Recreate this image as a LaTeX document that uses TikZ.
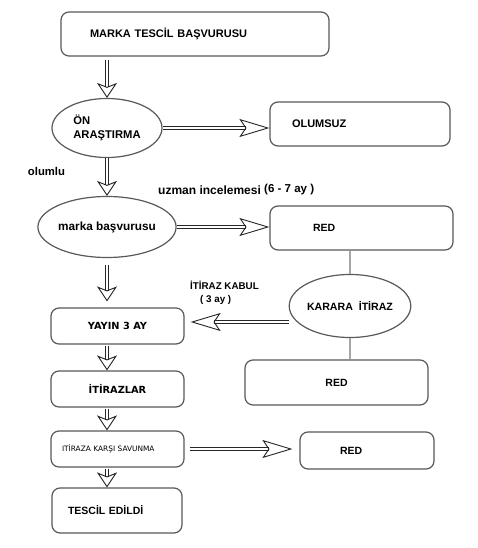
\documentclass[tikz,border=0pt]{standalone}
\usepackage{fontspec}
\setmainfont{Liberation Sans}
\newfontfamily\wideface{DejaVu Sans}
\usetikzlibrary{shapes.geometric,arrows.meta}

\begin{document}
\begin{tikzpicture}[x=1pt, y=-1pt,
    box/.style={rectangle, draw=black!65, line width=1.2pt, rounded corners=8pt, inner ysep=0pt, font=\fontsize{11}{13}\selectfont\bfseries},
    oval/.style={ellipse, draw=black!65, line width=1.2pt, inner sep=0pt, minimum width=110pt, font=\fontsize{11.2}{14}\selectfont\bfseries},
    stepbox/.style={box, minimum width=133pt, minimum height=36pt, align=center, font=\wideface\fontsize{9.8}{12}\selectfont\bfseries},
    dblarrow/.style={draw=black!85, line width=0.9pt, double=white, double distance=2.2pt, -{Stealth[open, length=15pt, width=20pt, inset=4pt, line width=0.9pt 0 0]}},
    dbllong/.style={dblarrow, -{Stealth[open, length=30pt, width=18pt, inset=6pt, line width=0.9pt 0 0]}},
    link/.style={draw=black!35, line width=1.5pt},
    lbl/.style={font=\fontsize{11.5}{13}\selectfont\bfseries}
]
\fill[white] (0,0) rectangle (477,548);
\useasboundingbox (0,0) rectangle (477,548);

% Basvuru ve on arastirma
\node[box, minimum width=268pt, minimum height=44pt, text width=210pt, inner xsep=29pt, align=left] (markatescil) at (195,34) {MARKA TESCİL BAŞVURUSU};
\node[oval, minimum height=59pt, align=left] (onarastirma) at (107,128) {ÖN\\ARAŞTIRMA};
\node[box, minimum width=180pt, minimum height=44pt, text width=136pt, inner xsep=22pt, align=left] (olumsuz) at (360,124) {OLUMSUZ};

% Uzman incelemesi
\node[oval, minimum height=61pt, font=\fontsize{11.8}{14}\selectfont\bfseries] (markabasvuru) at (107,227) {marka başvurusu};
\node[box, minimum width=183pt, minimum height=44pt, text width=97pt, inner xsep=43pt, align=left, font=\fontsize{10.5}{12}\selectfont\bfseries] (red1) at (361.5,228) {RED};
\node[oval, minimum height=63pt, font=\fontsize{10.6}{13}\selectfont\bfseries] (kararaitiraz) at (350,306) {KARARA\ \ İTİRAZ};
\node[box, minimum width=183pt, minimum height=45pt, align=center, font=\fontsize{10.5}{12}\selectfont\bfseries] (red2) at (336.5,382.5) {RED};

% Yayin ve itiraz sureci
\node[stepbox] (yayin) at (117.5,326) {YAYIN 3 AY};
\node[stepbox] (itirazlar) at (117.5,389) {İTİRAZLAR};
\node[box, minimum width=133pt, minimum height=36pt, text width=111pt, inner xsep=11pt, align=left, font=\wideface\fontsize{7.4}{9}\selectfont] (savunma) at (117.5,449) {ITİRAZA KARŞI SAVUNMA};
\node[box, minimum width=134pt, minimum height=37pt, text width=54pt, inner xsep=40pt, align=left, font=\fontsize{10.5}{12}\selectfont\bfseries] (red3) at (367,450.5) {RED};
\node[box, minimum width=130pt, minimum height=45pt, text width=98pt, inner xsep=16pt, align=left, font=\fontsize{10.5}{12}\selectfont\bfseries] (tescil) at (117,510.5) {TESCİL EDİLDİ};

% Etiketler
\node[lbl, font=\fontsize{11.3}{13}\selectfont\bfseries] (olumlu) at (46.5,171) {olumlu};
\node[lbl, anchor=west, inner sep=0pt, font=\fontsize{12}{13}\selectfont\bfseries] (uzman) at (158,190) {uzman incelemesi\ \raisebox{2pt}{\fontsize{11.5}{12}\selectfont(6 - 7 ay )}};
\node[lbl, anchor=north west, inner sep=0pt, align=left, font=\fontsize{9.8}{13}\selectfont\bfseries] (kabul) at (190,281) {İTİRAZ KABUL\\\hspace*{10pt}( 3 ay )};

% Oklar
\draw[dblarrow, shorten <=3pt] (markatescil.south -| onarastirma.north) -- (onarastirma.north);
\draw[dbllong] (onarastirma.east) -- (onarastirma.east -| olumsuz.west);
\draw[dblarrow] (onarastirma.south) -- (markabasvuru.north);
\draw[dbllong] (markabasvuru.east) -- (markabasvuru.east -| red1.west);
\draw[link] (kararaitiraz.north |- red1.south) -- (kararaitiraz.north);
\draw[link] (kararaitiraz.south) -- (kararaitiraz.south |- red2.north);
\draw[dbllong, shorten >=6pt] ([yshift=-16pt]kararaitiraz.west) -- ([yshift=-16pt]kararaitiraz.west -| yayin.east);
\draw[dblarrow, shorten <=7pt, shorten >=6pt] (markabasvuru.south) -- (yayin.north -| markabasvuru.south);
\draw[dblarrow, shorten <=1pt] (yayin.south -| markabasvuru.south) -- (itirazlar.north -| markabasvuru.south);
\draw[dblarrow, shorten <=1pt] (itirazlar.south -| markabasvuru.south) -- (savunma.north -| markabasvuru.south);
\draw[dblarrow, shorten <=1pt] (savunma.south -| markabasvuru.south) -- (tescil.north -| markabasvuru.south);
\draw[dbllong, shorten <=5pt, shorten >=7pt] (savunma.east) -- (savunma.east -| red3.west);

\end{tikzpicture}
\end{document}
